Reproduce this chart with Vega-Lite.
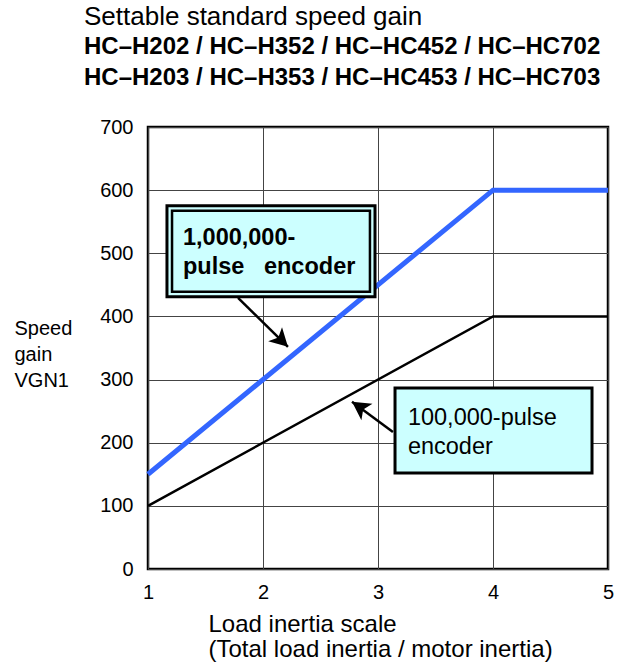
{
  "$schema": "https://vega.github.io/schema/vega-lite/v6.json",
  "width": 460,
  "height": 442,
  "autosize": {"type": "none"},
  "padding": {"left": 148, "top": 127, "right": 18, "bottom": 96},
  "config": {
    "font": "Liberation Sans",
    "view": {"stroke": "black", "strokeWidth": 2.5},
    "background": "white"
  },
  "title": {
    "text": "Settable standard speed gain",
    "subtitle": ["HC–H202 / HC–H352 / HC–HC452 / HC–HC702", "HC–H203 / HC–H353 / HC–HC453 / HC–HC703"],
    "anchor": "start",
    "frame": "group",
    "dx": -64,
    "offset": 27,
    "font": "Liberation Sans",
    "fontSize": 26,
    "fontWeight": "normal",
    "color": "black",
    "subtitleFont": "Liberation Sans",
    "subtitleFontSize": 24,
    "subtitleFontWeight": "bold",
    "subtitleColor": "black",
    "subtitleLineHeight": 31,
    "subtitlePadding": 5
  },
  "datasets": {
    "lines": [
      {"s": "1,000,000-pulse", "x": 1, "y": 150},
      {"s": "1,000,000-pulse", "x": 4, "y": 600},
      {"s": "1,000,000-pulse", "x": 5, "y": 600},
      {"s": "100,000-pulse", "x": 1, "y": 100},
      {"s": "100,000-pulse", "x": 4, "y": 400},
      {"s": "100,000-pulse", "x": 5, "y": 400}
    ],
    "boxes": [
      {"b": "outer1", "x": 1.165, "x2": 2.974, "y": 575.3, "y2": 431},
      {"b": "outer2", "x": 3.148, "x2": 4.861, "y": 286.8, "y2": 152}
    ],
    "inner": [
      {"b": "inner1", "x": 1.209, "x2": 2.93, "y": 567.4, "y2": 438.9}
    ],
    "labelsBold": [
      {"t": "1,000,000-", "x": 1.304, "y": 524.6},
      {"t": "pulse\u00a0\u00a0\u00a0encoder", "x": 1.304, "y": 478.6}
    ],
    "labelsNormal": [
      {"t": "100,000-pulse", "x": 3.26, "y": 239.3},
      {"t": "encoder", "x": 3.26, "y": 193.3}
    ],
    "arrows": [
      {"x": 1.783, "y": 429.5, "x2": 2.217, "y2": 351.8, "a": 134.4},
      {"x": 3.13, "y": 217.1, "x2": 2.774, "y2": 264.7, "a": 304}
    ]
  },
  "encoding": {
    "x": {
      "field": "x",
      "type": "quantitative",
      "scale": {"domain": [1, 5], "nice": false, "zero": false},
      "axis": {
        "values": [1, 2, 3, 4, 5],
        "format": "d",
        "grid": true,
        "gridColor": "#444444",
        "gridWidth": 1,
        "domain": false,
        "ticks": false,
        "labelFont": "Liberation Sans",
        "labelFontSize": 20,
        "labelColor": "black",
        "labelPadding": 13,
        "labelFlush": false,
        "labelOverlap": false,
        "title": ["Load inertia scale", "(Total load inertia / motor inertia)"],
        "titleFont": "Liberation Sans",
        "titleFontSize": 24,
        "titleFontWeight": "normal",
        "titleColor": "black",
        "titleAlign": "left",
        "titleBaseline": "top",
        "titleAnchor": "start",
        "titleX": 60,
        "titleY": 43,
        "titleLineHeight": 25
      }
    },
    "y": {
      "field": "y",
      "type": "quantitative",
      "scale": {"domain": [0, 700], "nice": false},
      "axis": {
        "values": [0, 100, 200, 300, 400, 500, 600, 700],
        "grid": true,
        "gridColor": "#444444",
        "gridWidth": 1,
        "domain": false,
        "ticks": false,
        "labelFont": "Liberation Sans",
        "labelFontSize": 20,
        "labelColor": "black",
        "labelPadding": 15,
        "labelFlush": false,
        "labelOverlap": false,
        "title": ["Speed", "gain", "VGN1"],
        "titleFont": "Liberation Sans",
        "titleFontSize": 20,
        "titleFontWeight": "normal",
        "titleColor": "black",
        "titleAngle": 0,
        "titleAlign": "left",
        "titleBaseline": "top",
        "titleX": -134,
        "titleY": 191,
        "titleLineHeight": 26
      }
    }
  },
  "layer": [
    {
      "data": {"name": "lines"},
      "transform": [{"filter": "datum.s === '100,000-pulse'"}],
      "mark": {"type": "line", "color": "black", "strokeWidth": 2.5}
    },
    {
      "data": {"name": "lines"},
      "transform": [{"filter": "datum.s === '1,000,000-pulse'"}],
      "mark": {"type": "line", "color": "#3366ff", "strokeWidth": 5}
    },
    {
      "data": {"name": "boxes"},
      "mark": {"type": "rect", "fill": "#ccffff", "stroke": "black", "strokeWidth": 3},
      "encoding": {"x2": {"field": "x2"}, "y2": {"field": "y2"}}
    },
    {
      "data": {"name": "inner"},
      "mark": {"type": "rect", "fill": null, "fillOpacity": 0, "stroke": "black", "strokeWidth": 2.5},
      "encoding": {"x2": {"field": "x2"}, "y2": {"field": "y2"}}
    },
    {
      "data": {"name": "labelsBold"},
      "mark": {"type": "text", "align": "left", "baseline": "middle", "font": "Liberation Sans", "fontSize": 23.5, "fontWeight": "bold", "color": "black"},
      "encoding": {"text": {"field": "t"}}
    },
    {
      "data": {"name": "labelsNormal"},
      "mark": {"type": "text", "align": "left", "baseline": "middle", "font": "Liberation Sans", "fontSize": 23.5, "fontWeight": "normal", "color": "black"},
      "encoding": {"text": {"field": "t"}}
    },
    {
      "data": {"name": "arrows"},
      "mark": {"type": "rule", "color": "black", "strokeWidth": 2.5},
      "encoding": {"x2": {"field": "x2"}, "y2": {"field": "y2"}}
    },
    {
      "data": {"name": "arrows"},
      "mark": {"type": "point", "shape": "M0,0 L1.1,2 L0,1.5 L-1.1,2 Z", "filled": true, "fill": "black", "opacity": 1, "strokeWidth": 0, "size": 324},
      "encoding": {
        "x": {"field": "x2", "type": "quantitative"},
        "y": {"field": "y2", "type": "quantitative"},
        "angle": {"field": "a", "type": "quantitative", "scale": null}
      }
    }
  ]
}
